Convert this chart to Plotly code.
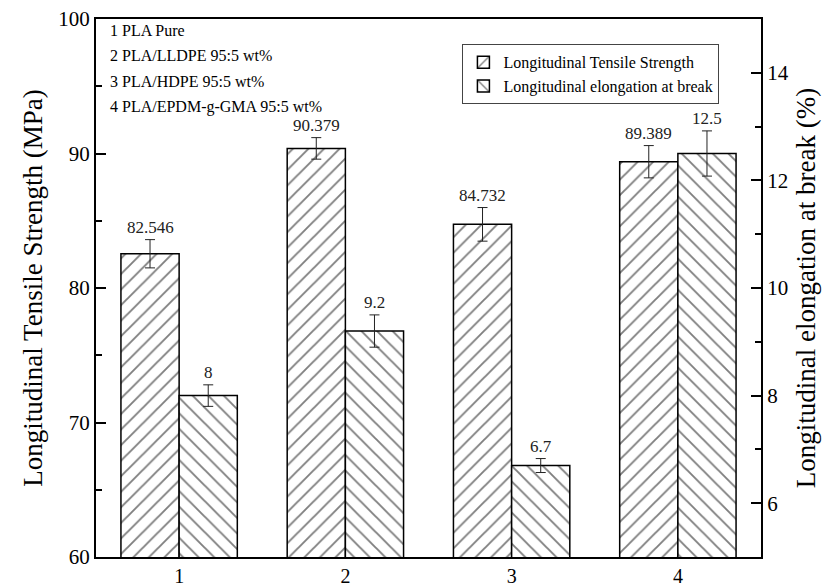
import plotly.graph_objects as go

categories = [1, 2, 3, 4]
tensile = [82.546, 90.379, 84.732, 89.389]
tensile_err = [1.05, 0.8, 1.25, 1.2]
elong = [8, 9.2, 6.7, 12.5]
elong_err = [0.2, 0.3, 0.13, 0.42]
tensile_labels = ["82.546", "90.379", "84.732", "89.389"]
elong_labels = ["8", "9.2", "6.7", "12.5"]
sample_notes = ["1 PLA Pure", "2 PLA/LLDPE 95:5 wt%", "3 PLA/HDPE 95:5 wt%", "4 PLA/EPDM-g-GMA 95:5 wt%"]

FONT = "Liberation Serif"
W = 0.35

fig = go.Figure()
fig.add_trace(go.Bar(
    x=categories, y=tensile, name="Longitudinal Tensile Strength",
    width=W, offset=-W,
    marker=dict(color="white", line=dict(color="black", width=1.5),
                pattern=dict(shape="/", fgcolor="black", bgcolor="white", size=11, solidity=0.17)),
    error_y=dict(type="data", array=tensile_err, color="#222", thickness=1, width=5),
    yaxis="y",
))
fig.add_trace(go.Bar(
    x=categories, y=elong, name="Longitudinal elongation at break",
    width=W, offset=0,
    marker=dict(color="white", line=dict(color="black", width=1.5),
                pattern=dict(shape="\\", fgcolor="black", bgcolor="white", size=11, solidity=0.17)),
    error_y=dict(type="data", array=elong_err, color="#222", thickness=1, width=5),
    yaxis="y2",
))

annotations = []
for c, v, e, t in zip(categories, tensile, tensile_err, tensile_labels):
    annotations.append(dict(x=c - W / 2, y=v + e, xref="x", yref="y", text=t, showarrow=False,
                            yanchor="bottom", yshift=1, font=dict(family=FONT, size=17, color="#222")))
for c, v, e, t in zip(categories, elong, elong_err, elong_labels):
    annotations.append(dict(x=c + W / 2, y=v + e, xref="x", yref="y2", text=t, showarrow=False,
                            yanchor="bottom", yshift=1, font=dict(family=FONT, size=17, color="#222")))
for i, note in enumerate(sample_notes):
    annotations.append(dict(x=0.0, y=1 - (11 + 25.5 * i) / 538, xref="paper", yref="paper",
                            text=note, showarrow=False, xanchor="left", yanchor="middle", xshift=12,
                            font=dict(family=FONT, size=16, color="black")))

fig.update_layout(
    width=830, height=586,
    margin=dict(l=96, r=69, t=19, b=29, autoexpand=False),
    plot_bgcolor="white", paper_bgcolor="white",
    font=dict(family=FONT, color="black"),
    showlegend=True,
    legend=dict(x=0.551, y=0.953, xanchor="left", yanchor="top",
                bgcolor="white", bordercolor="#444", borderwidth=1,
                font=dict(family=FONT, size=16, color="black"),
                tracegroupgap=0, itemwidth=30),
    xaxis=dict(range=[0.5, 4.5], tickvals=categories, ticktext=[str(c) for c in categories],
               showline=True, linecolor="black", linewidth=2, mirror=True, automargin=False,
               ticks="", showgrid=False, zeroline=False,
               tickfont=dict(family=FONT, size=20, color="black")),
    yaxis=dict(range=[60, 100], dtick=10, showline=True, linecolor="black", linewidth=2, automargin=False,
               ticks="inside", ticklen=10, tickwidth=1.5, tickcolor="black",
               minor=dict(ticks="inside", ticklen=6, tickwidth=1.5, tickcolor="black", dtick=5),
               showgrid=False, zeroline=False,
               tickfont=dict(family=FONT, size=21, color="black"),
               title=dict(text="Longitudinal Tensile Strength (MPa)", font=dict(family=FONT, size=27, color="black"),
                          standoff=8)),
    yaxis2=dict(range=[5, 15], tickvals=[6, 8, 10, 12, 14], overlaying="y", side="right",
                showline=True, linecolor="black", linewidth=2, automargin=False,
                ticks="inside", ticklen=10, tickwidth=1.5, tickcolor="black",
                minor=dict(ticks="inside", ticklen=6, tickwidth=1.5, tickcolor="black", tickvals=[5, 7, 9, 11, 13, 15]),
                showgrid=False, zeroline=False,
                tickfont=dict(family=FONT, size=21, color="black"),
                title=dict(text="Longitudinal elongation at break (%)", font=dict(family=FONT, size=27, color="black"),
                           standoff=8)),
    annotations=annotations,
)

fig.write_html("out.html", config={"displayModeBar": False},
               post_script="document.body.style.margin='0';document.body.style.overflow='hidden';")
